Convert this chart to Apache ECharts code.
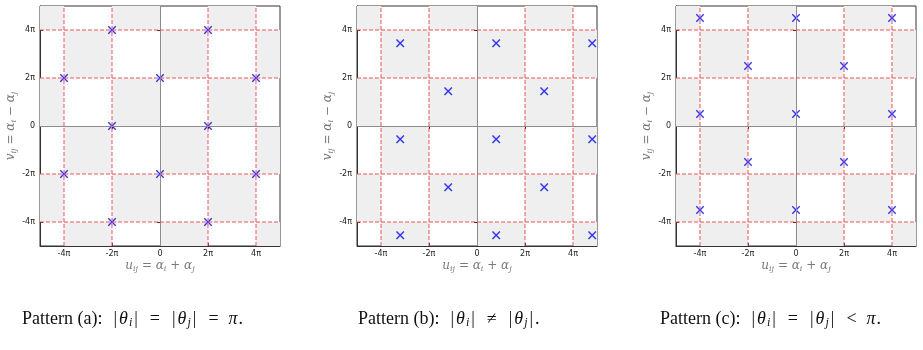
<!DOCTYPE html>
<html>
<head>
<meta charset="utf-8">
<script src="https://cdn.jsdelivr.net/npm/echarts@6/dist/echarts.min.js"></script>
<style>
  html, body { margin: 0; padding: 0; background: #fff; }
  #chart { width: 923px; height: 350px; }
</style>
</head>
<body>
<div id="chart"></div>
<script>
// all coordinates are in units of π
const tickValues = [-4, -2, 0, 2, 4]
const gridValues = [-4, -2, 2, 4]
const cellEdges = [-5, -4, -2, 0, 2, 4, 5]

// pattern (a)
const pointsA = [
  [-2, 4], [2, 4],
  [-4, 2], [0, 2], [4, 2],
  [-2, 0], [2, 0],
  [-4, -2], [0, -2], [4, -2],
  [-2, -4], [2, -4]
]
// pattern (b)
const pointsB = [
  [-3.2, 3.45], [0.8, 3.45], [4.8, 3.45],
  [-1.2, 1.45], [2.8, 1.45],
  [-3.2, -0.55], [0.8, -0.55], [4.8, -0.55],
  [-1.2, -2.55], [2.8, -2.55],
  [-3.2, -4.55], [0.8, -4.55], [4.8, -4.55]
]
// pattern (c)
const pointsC = [
  [-4, 4.5], [0, 4.5], [4, 4.5],
  [-2, 2.5], [2, 2.5],
  [-4, 0.5], [0, 0.5], [4, 0.5],
  [-2, -1.5], [2, -1.5],
  [-4, -3.5], [0, -3.5], [4, -3.5]
]
const captions = [
  'Pattern (a):  {b||}{m|θ}{s|i}{b||}{o|=}{b||}{m|θ}{s|j}{b||}{o|=}{m|π}.',
  'Pattern (b):  {b||}{m|θ}{s|i}{b||}{o|≠}{b||}{m|θ}{s|j}{b||}.',
  'Pattern (c):  {b||}{m|θ}{s|i}{b||}{o|=}{b||}{m|θ}{s|j}{b||}{o|<}{m|π}.'
]

const panels = [pointsA, pointsB, pointsC]
const gridLeft = [40, 357, 676]
const captionLeft = [22, 358, 660]

const xSymbol = 'path://M0,0L10,10M10,0L0,10'

function piLabel(v) {
  return v === 0 ? '0' : v + 'π'
}

// checkerboard cells (grey where the cell parity is odd)
let cells = []
for (let a = 0; a < cellEdges.length - 1; a++) {
  for (let b = 0; b < cellEdges.length - 1; b++) {
    const i = Math.floor((cellEdges[a] + cellEdges[a + 1]) / 4)
    const j = Math.floor((cellEdges[b] + cellEdges[b + 1]) / 4)
    if (Math.abs(i + j) % 2 === 1) {
      cells.push([
        { xAxis: cellEdges[a], yAxis: cellEdges[b] },
        { xAxis: cellEdges[a + 1], yAxis: cellEdges[b + 1] }
      ])
    }
  }
}

const nameColor = '#7a7a7a'
const nameRich = {
  m: { fontSize: 12, fontStyle: 'italic', fontFamily: 'DejaVu Serif', color: nameColor },
  s: { fontSize: 8, fontStyle: 'italic', fontFamily: 'DejaVu Serif', color: nameColor, verticalAlign: 'bottom', padding: [7, 0, 0, 0] },
  n: { fontSize: 12, fontStyle: 'normal', fontFamily: 'DejaVu Serif', color: nameColor }
}

let grid = [], xAxis = [], yAxis = [], series = []
panels.forEach((pts, k) => {
  grid.push({
    left: gridLeft[k], top: 6, width: 240, height: 240,
    show: true, borderColor: '#333', borderWidth: 1, backgroundColor: '#fff'
  })
  const tick = { show: true, inside: true, length: 3, customValues: tickValues, lineStyle: { color: '#6b1d1d', width: 1 } }
  xAxis.push({
    gridIndex: k, type: 'value', min: -5, max: 5,
    axisLine: { show: true, onZero: false, lineStyle: { color: '#333', width: 1 } },
    axisTick: tick,
    axisLabel: { customValues: tickValues, formatter: piLabel, fontSize: 8, color: '#222', margin: 4, fontFamily: 'DejaVu Sans' },
    splitLine: { show: false },
    name: '{m|u}{s|ij}{n| = }{m|α}{s|i}{n| + }{m|α}{s|j}',
    nameLocation: 'middle', nameGap: 12, nameMoveOverlap: false,
    nameTextStyle: { fontSize: 12, fontFamily: 'DejaVu Serif', color: nameColor, rich: nameRich }
  })
  xAxis.push({
    gridIndex: k, type: 'value', min: -5, max: 5, position: 'top',
    axisLine: { show: false }, axisTick: tick, axisLabel: { show: false }, splitLine: { show: false }
  })
  yAxis.push({
    gridIndex: k, type: 'value', min: -5, max: 5,
    axisLine: { show: true, onZero: false, lineStyle: { color: '#333', width: 1 } },
    axisTick: tick,
    axisLabel: { customValues: tickValues, formatter: piLabel, fontSize: 8, color: '#222', margin: 5, fontFamily: 'DejaVu Sans' },
    splitLine: { show: false },
    name: '{m|v}{s|ij}{n| = }{m|α}{s|i}{n| − }{m|α}{s|j}',
    nameLocation: 'middle', nameGap: 20, nameRotate: 90,
    nameTextStyle: { fontSize: 12, fontFamily: 'DejaVu Serif', color: nameColor, rich: nameRich }
  })
  yAxis.push({
    gridIndex: k, type: 'value', min: -5, max: 5, position: 'right',
    axisLine: { show: false }, axisTick: tick, axisLabel: { show: false }, splitLine: { show: false }
  })

  let lines = []
  lines.push({ xAxis: 0, lineStyle: { color: '#8c8c8c', type: 'solid', width: 1 } })
  lines.push({ yAxis: 0, lineStyle: { color: '#8c8c8c', type: 'solid', width: 1 } })
  gridValues.forEach(v => {
    lines.push({ xAxis: v })
    lines.push({ yAxis: v })
  })

  series.push({
    type: 'scatter', xAxisIndex: 2 * k, yAxisIndex: 2 * k, data: [], z: 1,
    markArea: { silent: true, itemStyle: { color: '#efefef' }, data: cells }
  })
  series.push({
    type: 'scatter', xAxisIndex: 2 * k, yAxisIndex: 2 * k, data: [], z: 2,
    markLine: {
      silent: true, symbol: 'none', label: { show: false },
      lineStyle: { color: 'rgba(235, 70, 70, 0.6)', type: [4, 2], width: 1.5 },
      data: lines
    }
  })
  series.push({
    type: 'scatter', xAxisIndex: 2 * k, yAxisIndex: 2 * k, z: 3,
    symbol: xSymbol, symbolSize: 7.5,
    itemStyle: { color: 'none', borderColor: '#0000ff', borderWidth: 1.4 },
    data: pts
  })
})

const capFont = 'Liberation Serif'
const graphic = captions.map((t, k) => ({
  type: 'text', left: captionLeft[k], top: 310,
  style: {
    text: t, fontSize: 18, fontFamily: capFont, fill: '#111',
    rich: {
      m: { fontSize: 18, fontStyle: 'italic', fontFamily: capFont, fill: '#111', padding: [0, 1, 0, 0] },
      b: { fontSize: 18, fontFamily: capFont, fill: '#111', padding: [0, 2, 0, 2] },
      o: { fontSize: 18, fontFamily: capFont, fill: '#111', padding: [0, 10, 0, 10] },
      s: { fontSize: 12, fontStyle: 'italic', fontFamily: capFont, fill: '#111', verticalAlign: 'bottom', padding: [8, 0, 0, 0] }
    }
  }
}))

const chart = echarts.init(document.getElementById('chart'))
chart.setOption({
  animation: false,
  backgroundColor: '#fff',
  grid: grid,
  xAxis: xAxis,
  yAxis: yAxis,
  series: series,
  graphic: graphic
})
</script>
</body>
</html>
